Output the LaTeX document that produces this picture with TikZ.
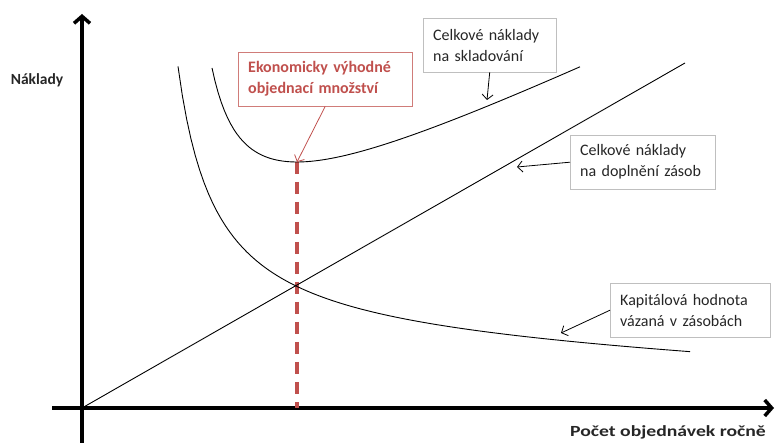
\documentclass[tikz,border=0pt]{standalone}
\usepackage{fontspec}
\usepackage{graphicx}
\setmainfont{Carlito}
\usetikzlibrary{arrows.meta}
\definecolor{eoqred}{HTML}{C0504D}
\begin{document}
\begin{tikzpicture} [
                x=1pt, y=-1pt,
                axis/.style = {draw, line width=3.5pt, -{Straight Barb[length=7pt,width=16pt]}},
                curve/.style = {draw, line width=0.9pt},
                label box/.style = {draw=black!25, fill=white, align=left, anchor=north west,
                    minimum height=54pt, inner xsep=10pt, text=black!85,
                    font=\fontsize{16}{21}\selectfont},
                red box/.style = {label box, draw=eoqred!75, text=eoqred, font=\bfseries\fontsize{16}{21}\selectfont},
                note arrow/.style = {draw, line width=0.8pt, -{Straight Barb[length=5pt,width=11pt]}},
                axis label/.style = {font=\bfseries\fontsize{15.5}{18}\selectfont, text=black!85},
            ]
            \useasboundingbox (0,0) rectangle (776,443);
            % First the points on the curves
            \coordinate (O) at (82,408);
            \coordinate (ybot) at (82,443);
            \coordinate (ytop) at (82,14);
            \coordinate (xleft) at (52,408);
            \coordinate (xright) at (774,408);
            \coordinate (lineend) at (685,63);
            \coordinate (min) at (297,162);
            \coordinate (skltip) at (487,100);
            \coordinate (doptip) at (517,167);
            \coordinate (kaptip) at (561,333);
            % Axes
            \path[axis] (ybot) -- (ytop);
            \path[axis] (xleft) -- (xright);
            \node[axis label] (naklady) at (37,80) {Náklady};
            \node[axis label] (pocet) at (668,432) {\scalebox{1.27}[1]{Počet objednávek ročně}};
            % Optimum
            \draw[eoqred, line width=3.5pt, dash pattern=on 12pt off 8pt] (min) -- (min |- O);
            % Curves
            \path[curve] (O) -- (lineend);
            \path[curve] plot[domain=178:690, samples=120]
                (\x, {408 - (10900/(\x-139.7) + 52.3 - 0.04*(\x-296))});
            \path[curve] plot[domain=212:580, samples=120]
                (\x, {408 - (7165/(\x-175) + 0.4814*\x + 44.3)});
            % Labels
            \node[red box, text width=154pt] (eoq) at (238,52) {Ekonomicky výhodné\\objednací množství};
            \node[label box, text width=113pt] (skl) at (423,18) {Celkové náklady\\na skladování};
            \node[label box, text width=125pt] (dop) at (570,135) {Celkové náklady\\na doplnění zásob};
            \node[label box, text width=140pt] (kap) at (610,283) {Kapitálová hodnota\\vázaná v zásobách};
            \foreach \source/ \dest in {
                    skl.south/skltip, dop.west/doptip, kap.west/kaptip}
                \path[note arrow] (\source) -- (\dest);
            \path[note arrow, draw=eoqred] (eoq.south) -- (min);
        \end{tikzpicture}
\end{document}
